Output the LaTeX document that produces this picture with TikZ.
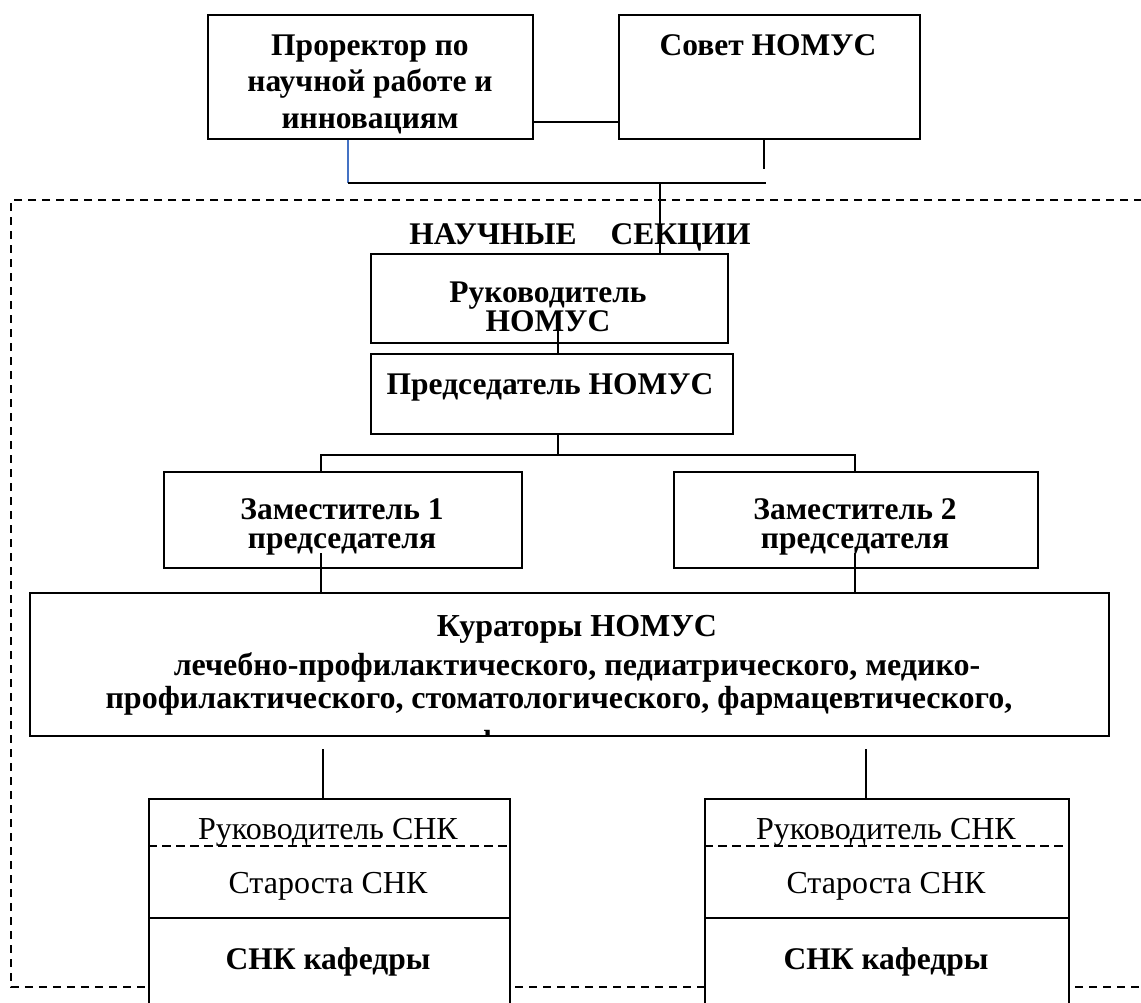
\documentclass[tikz,border=0pt]{standalone}
\usepackage{fontspec}
\setmainfont{Liberation Serif}
\usetikzlibrary{calc}
\definecolor{wordblue}{RGB}{68,114,196}
\begin{document}
\begin{tikzpicture}[x=1pt,y=-1pt,
  box/.style={draw, line width=2pt, inner sep=0pt, fill=white, anchor=north west},
  conn/.style={line width=1.4pt},
  frame/.style={line width=1.5pt, dash pattern=on 8pt off 6pt},
  divline/.style={line width=2.4pt, dash pattern=on 9pt off 5pt},
  bt/.style={font=\bfseries\fontsize{31.5}{36}\selectfont, anchor=base, inner sep=0pt},
  kt/.style={font=\bfseries\fontsize{32}{36}\selectfont, anchor=base, inner sep=0pt},
  rt/.style={font=\fontsize{32}{36}\selectfont, anchor=base, inner sep=0pt}]
\useasboundingbox (0,0) rectangle (1141,1002);
\clip (0,0) rectangle (1141,1002);

% dashed frame of the scientific sections
\coordinate (fbl) at (11,987);
\coordinate (ftl) at (11,200);
\coordinate (ftr) at (1170,200);
\coordinate (fbr) at (1170,987);
\draw[frame] (ftr) -- (ftl) -- (fbl) -- (fbr);

% boxes
\node[box, minimum width=325pt, minimum height=124pt] (pr) at (207,14) {};
\node[box, minimum width=301pt, minimum height=124pt] (sv) at (618,14) {};
\node[box, minimum width=357pt, minimum height=89pt] (rk) at (370,253) {};
\node[box, minimum width=362pt, minimum height=80pt] (ps) at (370,353) {};
\node[box, minimum width=358pt, minimum height=96pt] (z1) at (163,471) {};
\node[box, minimum width=364pt, minimum height=96pt] (z2) at (673,471) {};
\node[box, minimum width=1079pt, minimum height=143pt] (kr) at (29,592) {};
\node[box, minimum width=361pt, minimum height=260pt] (s1) at (148,798) {};
\node[box, minimum width=364pt, minimum height=260pt] (s2) at (704,798) {};

% dividers inside the SNK boxes
\coordinate (d1) at (0,846);
\coordinate (d2) at (0,918);
\draw[divline] (s1.west |- d1) -- (s1.east |- d1);
\draw[line width=2pt] (s1.west |- d2) -- (s1.east |- d2);
\draw[divline] (s2.west |- d1) -- (s2.east |- d1);
\draw[line width=2pt] (s2.west |- d2) -- (s2.east |- d2);

% texts
\node[bt] (t1) at (370,55) {Проректор по};
\node[bt] (t2) at (370,91) {научной работе и};
\node[bt] (t3) at (370,128) {инновациям};
\node[bt] (t4) at (768,55) {Совет НОМУС};
\node[bt] (t5) at (580,244) {НАУЧНЫЕ\hspace*{34pt}СЕКЦИИ};
\node[bt] (t6) at (548,302) {Руководитель};
\node[bt] (t7) at (548,331) {НОМУС};
\node[bt] (t8) at (550,394) {Председатель НОМУС};
\node[bt] (t9) at (342,519) {Заместитель 1};
\node[bt] (t10) at (342,548) {председателя};
\node[bt] (t11) at (855,519) {Заместитель 2};
\node[bt] (t12) at (855,548) {председателя};
\node[kt] (t13) at (577,636) {Кураторы НОМУС};
\node[kt] (t14) at (577,675) {лечебно-профилактического, педиатрического, медико-};
\node[kt] (t15) at (559,708) {профилактического, стоматологического, фармацевтического,};
\begin{scope}
\clip (31,594) rectangle (1106,734);
\node[kt] (t16) at (568,752) {факультетов};
\end{scope}
\node[rt] (t17) at (328,839) {Руководитель СНК};
\node[rt] (t18) at (328,893) {Староста СНК};
\node[bt] (t19) at (328,969) {СНК кафедры};
\node[rt] (t20) at (886,839) {Руководитель СНК};
\node[rt] (t21) at (886,893) {Староста СНК};
\node[bt] (t22) at (886,969) {СНК кафедры};

% connectors
\coordinate (y122) at (0,122);
\draw[conn] (pr.east |- y122) -- (sv.west |- y122);
\coordinate (svs) at (764,169);
\draw[conn] (sv.south -| svs) -- (svs);
\coordinate (jl) at (348,183);
\coordinate (jr) at (766,183);
\coordinate (jm) at (660,183);
\draw[conn, wordblue] (pr.south -| jl) -- (jl);
\draw[conn] (jl) -- (jr);
\draw[conn] (jm) -- (rk.north -| jm);
\coordinate (c1) at (558,323);
\draw[conn] (c1) -- (ps.north -| c1);
\coordinate (h1) at (558,455);
\coordinate (hl) at (321,455);
\coordinate (hr) at (855,455);
\draw[conn] (ps.south -| h1) -- (h1);
\draw[conn] (z1.north -| hl) -- (hl) -- (hr) -- (z2.north -| hr);
\coordinate (zl) at (321,553);
\coordinate (zr) at (855,553);
\draw[conn] (zl) -- (kr.north -| zl);
\draw[conn] (zr) -- (kr.north -| zr);
\coordinate (kl) at (323,749);
\coordinate (kk) at (866,749);
\draw[conn] (kl) -- (s1.north -| kl);
\draw[conn] (kk) -- (s2.north -| kk);
\end{tikzpicture}
\end{document}
